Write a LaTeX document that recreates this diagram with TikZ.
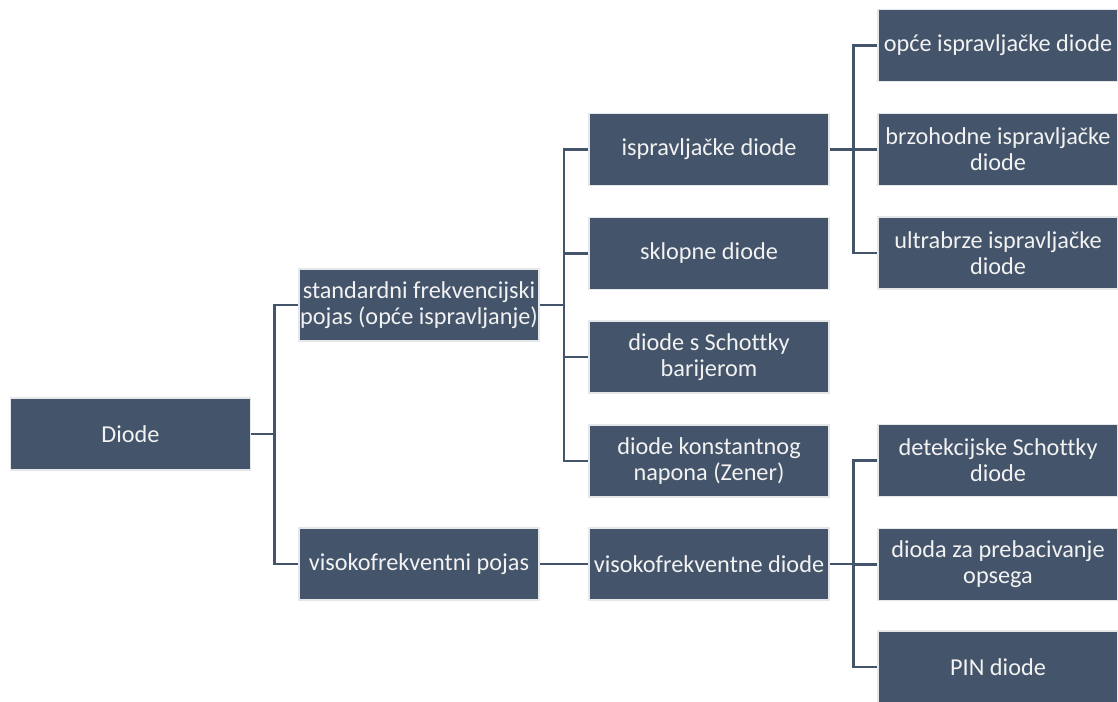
\documentclass[tikz,border=0pt]{standalone}
\usepackage{fontspec}
\setmainfont{Carlito}[Ligatures=NoCommon]
\usetikzlibrary{calc}
\definecolor{boxfill}{HTML}{44546A}
\definecolor{boxedge}{HTML}{E6E7E9}
\definecolor{boxtext}{HTML}{F2F2F2}
\begin{document}
\begin{tikzpicture}[x=0.75pt,y=-0.75pt,
  box/.style={fill=boxfill,draw=boxedge,line width=1.2pt,text=boxtext,
    minimum width=180pt,minimum height=54pt,inner sep=1pt,align=center,
    font=\fontsize{18.2pt}{19.5pt}\selectfont},
  conn/.style={draw=boxfill,line width=1.8pt}]
\useasboundingbox (0,0) rectangle (1118,702);
% column 1
\node[box] (diode) at (130.5,434) {Diode};
% column 2
\node[box] (std) at (419,305) {standardni frekvencijski\\pojas (opće ispravljanje)};
\node[box] (vpoj) at (419,564) {visokofrekventni pojas};
% column 3
\node[box] (ispr) at (709,149.5) {ispravljačke diode};
\node[box] (sklo) at (709,253.5) {sklopne diode};
\node[box] (scho) at (709,357) {diode s Schottky\\barijerom};
\node[box] (zene) at (709,461) {diode konstantnog\\napona (Zener)};
\node[box] (vdio) at (709,564) {visokofrekventne diode};
% column 4
\node[box] (opce) at (998,45.5) {opće ispravljačke diode};
\node[box] (brzo) at (998,149.5) {brzohodne ispravljačke\\diode};
\node[box] (ultr) at (998,253) {ultrabrze ispravljačke\\diode};
\node[box] (dete) at (998,460.5) {detekcijske Schottky\\diode};
\node[box] (preb) at (998,564.5) {dioda za prebacivanje\\opsega};
\node[box] (pin) at (998,667) {PIN diode};
% buses
\coordinate (b1) at (274.5,0);
\coordinate (b2) at (564,0);
\coordinate (b3) at (853.5,0);
% connectors
\draw[conn] (diode.east) -- (diode.east -| b1);
\draw[conn] (std.west) -- (std.west -| b1) -- (vpoj.west -| b1) -- (vpoj.west);
\draw[conn] (std.east) -- (std.east -| b2);
\draw[conn] (ispr.west) -- (ispr.west -| b2) -- (zene.west -| b2) -- (zene.west);
\draw[conn] (sklo.west) -- (sklo.west -| b2);
\draw[conn] (scho.west) -- (scho.west -| b2);
\draw[conn] (vpoj.east) -- (vdio.west);
\draw[conn] (ispr.east) -- (ispr.east -| b3);
\draw[conn] (opce.west) -- (opce.west -| b3) -- (ultr.west -| b3) -- (ultr.west);
\draw[conn] (brzo.west) -- (brzo.west -| b3);
\draw[conn] (vdio.east) -- (vdio.east -| b3);
\draw[conn] (dete.west) -- (dete.west -| b3) -- (pin.west -| b3) -- (pin.west);
\draw[conn] (preb.west) -- (preb.west -| b3);
\end{tikzpicture}
\end{document}
